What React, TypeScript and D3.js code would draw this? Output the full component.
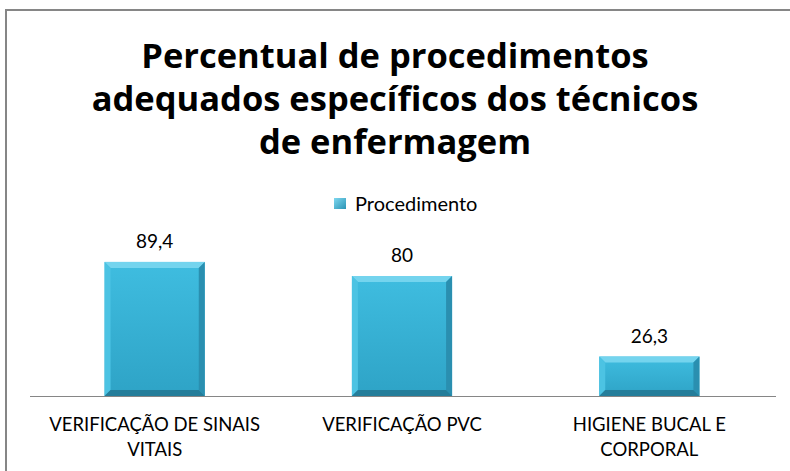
import React from 'react';
import * as d3 from 'd3';

const categories = ['VERIFICAÇÃO DE SINAIS VITAIS', 'VERIFICAÇÃO PVC', 'HIGIENE BUCAL E CORPORAL'];
const categoryLines = [['VERIFICAÇÃO DE SINAIS', 'VITAIS'], ['VERIFICAÇÃO PVC'], ['HIGIENE BUCAL E', 'CORPORAL']];
const values = [89.4, 80, 26.3];
const valueLabels = ['89,4', '80', '26,3'];
const titleLines = ['Percentual de procedimentos', 'adequados específicos dos técnicos', 'de enfermagem'];
const seriesName = 'Procedimento';

const W = 790;
const H = 471;
const FONT = 'Lato, "Open Sans", sans-serif';
const TITLE_FONT = '"Open Sans", Lato, sans-serif';

export default function App() {
  const x = d3.scaleBand().domain(categories).range([31, 773]).paddingInner(0.595).paddingOuter(0.2975);
  const y = d3.scaleLinear().domain([0, 100]).range([396, 246]);
  const bw = x.bandwidth();
  const bev = 6;

  return (
    <svg width={W} height={H} style={{ position: 'absolute', left: 0, top: 0 }}>
      <defs>
        <linearGradient id="face" x1="0" y1="0" x2="0" y2="1">
          <stop offset="0" stopColor="#3fbde0" />
          <stop offset="1" stopColor="#2ea3c6" />
        </linearGradient>
        <linearGradient id="leg" x1="0" y1="0" x2="1" y2="1">
          <stop offset="0" stopColor="#7fd8f0" />
          <stop offset="1" stopColor="#2a93b4" />
        </linearGradient>
      </defs>
      <rect x={0} y={0} width={W} height={H} fill="#fff" />
      <rect x={6} y={10} width={W + 20} height={H + 20} fill="none" stroke="#868686" strokeWidth={2} />

      {titleLines.map((t, i) => (
        <text key={i} x={395} y={68 + i * 43} textAnchor="middle" fontFamily={TITLE_FONT} fontWeight="bold" fontSize={34.5} fill="#000">
          {t}
        </text>
      ))}

      <rect x={334} y={198} width={12} height={11} fill="url(#leg)" />
      <text x={355} y={211} fontFamily={FONT} fontSize={20} fill="#000">{seriesName}</text>

      <line x1={30} x2={776} y1={396.5} y2={396.5} stroke="#868686" strokeWidth={1} />

      {categories.map((c, i) => {
        const x0 = x(c)!;
        const x1 = x0 + bw;
        const y0 = y(values[i]);
        const y1 = y(0);
        const b = Math.min(bev, (y1 - y0) / 2);
        return (
          <g key={c}>
            <rect x={x0} y={y0} width={bw} height={y1 - y0} fill="url(#face)" />
            <polygon points={`${x0},${y0} ${x1},${y0} ${x1 - b},${y0 + b} ${x0 + b},${y0 + b}`} fill="#74d4ee" />
            <polygon points={`${x0},${y0} ${x0 + b},${y0 + b} ${x0 + b},${y1 - b} ${x0},${y1}`} fill="#4cc3e3" />
            <polygon points={`${x1},${y0} ${x1},${y1} ${x1 - b},${y1 - b} ${x1 - b},${y0 + b}`} fill="#2a8fb0" />
            <polygon points={`${x0},${y1} ${x0 + b},${y1 - b} ${x1 - b},${y1 - b} ${x1},${y1}`} fill="#247d9a" />
            <text x={x0 + bw / 2} y={y0 - 14} textAnchor="middle" fontFamily={FONT} fontSize={19} fill="#000">
              {valueLabels[i]}
            </text>
            {categoryLines[i].map((l, j) => (
              <text key={j} x={x0 + bw / 2} y={431 + j * 25} textAnchor="middle" fontFamily={FONT} fontSize={18.5} fill="#000">
                {l}
              </text>
            ))}
          </g>
        );
      })}
    </svg>
  );
}
